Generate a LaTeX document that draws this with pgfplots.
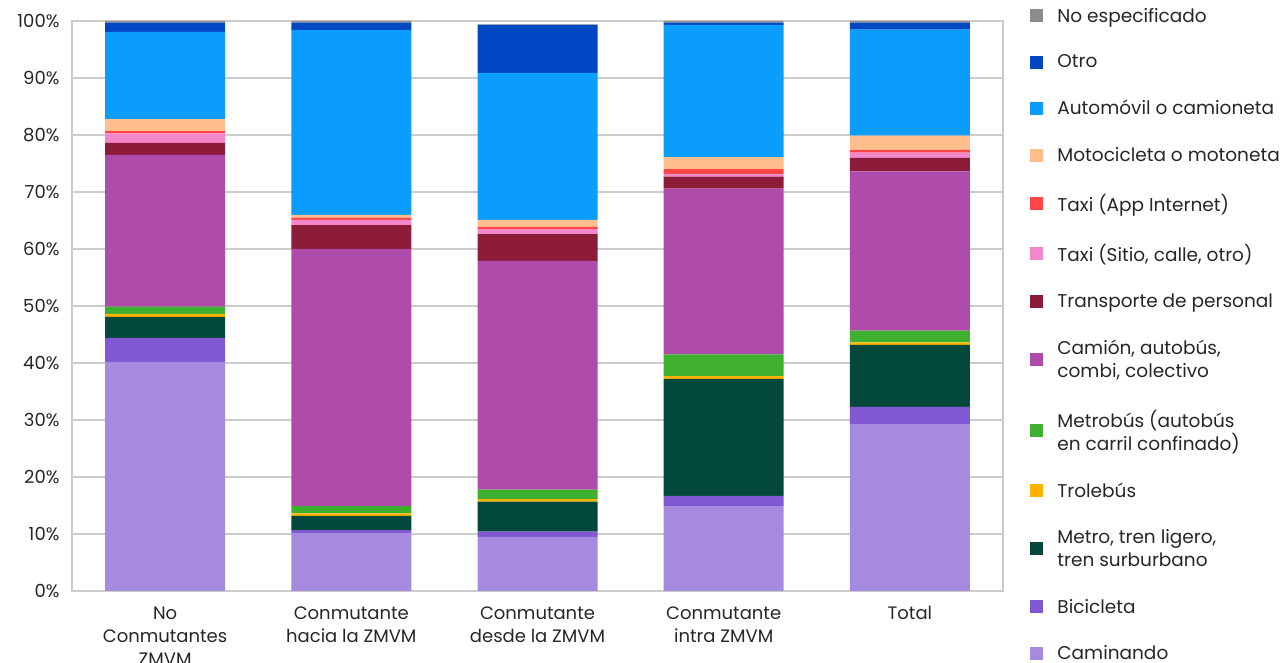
\documentclass[border=0pt]{standalone}
\usepackage{pgfplots}
\pgfplotsset{compat=1.18}
\usepackage{pgfplotstable}
\usepackage{fontspec}
\setmainfont{Poppins}
\definecolor{cCam}{HTML}{A58AE0}
\definecolor{cBic}{HTML}{8158D3}
\definecolor{cMet}{HTML}{03493B}
\definecolor{cTro}{HTML}{FFB300}
\definecolor{cMtb}{HTML}{3EAF2E}
\definecolor{cCami}{HTML}{AF4BAB}
\definecolor{cTP}{HTML}{8C1C3A}
\definecolor{cTsit}{HTML}{F287CC}
\definecolor{cTapp}{HTML}{FF4545}
\definecolor{cMoto}{HTML}{FFBE8C}
\definecolor{cAuto}{HTML}{0A9DFC}
\definecolor{cOtro}{HTML}{0047C4}
\definecolor{cNE}{HTML}{8C8C8C}
\definecolor{txt}{HTML}{262626}
\pgfplotstableread{
x cam bic met tro mtb cami tp tsit tapp moto auto otro ne
0 40.2 4.2 3.7 0.5 1.3 26.6 2.1 1.7 0.4 2.1 15.3 1.6 0.3
1 10.2 0.5 2.5 0.4 1.3 45.1 4.2 0.9 0.4 0.5 32.4 1.3 0.3
2 9.5 0.9 5.3 0.4 1.7 40.1 4.7 0.9 0.4 1.2 25.8 8.4 0.1
3 14.9 1.8 20.5 0.5 3.8 29.1 2.1 0.5 0.8 2.1 23.2 0.4 0.3
4 29.3 3.0 10.9 0.4 2.1 27.9 2.4 0.9 0.5 2.5 18.6 1.2 0.3
}\datatable
\begin{document}
\begin{tikzpicture}
\begin{axis}[
  at={(72pt,72pt)}, anchor=south west,
  scale only axis, width=931pt, height=570pt,
  ybar stacked, bar width=120pt,
  xmin=-0.5, xmax=4.5, ymin=0, ymax=100,
  xtick=data,
  xticklabels={{No\\Conmutantes\\ZMVM},{Conmutante\\hacia la ZMVM},{Conmutante\\desde la ZMVM},{Conmutante\\intra ZMVM},{Total}},
  xticklabel style={align=center, anchor=north, yshift=-12pt},
  ytick={0,10,...,100},
  yticklabel={\pgfmathprintnumber{\tick}\%},
  yticklabel style={xshift=-9pt},
  major tick length=0pt,
  ymajorgrids, grid style={draw=black!20, line width=1.2pt},
  axis line style={draw=black!20, line width=1.2pt},
  tick label style={font=\fontsize{18}{23}\selectfont, text=txt},
  /pgf/number format/assume math mode=true,
  reverse legend,
  legend cell align=left,
  legend style={at={(1.026,1.03)}, anchor=north west, draw=none, fill=none,
    font=\fontsize{18.5}{23}\selectfont, text=txt,
    nodes={align=left, inner sep=2pt},
    row sep=27pt,
    /tikz/every odd column/.append style={column sep=12pt}},
  legend image code/.code={\fill[#1] (0pt,-6.5pt) rectangle (13pt,6.5pt);},
  every axis plot/.append style={draw=none},
]
\addplot[fill=cCam] table[x=x,y=cam]{\datatable};
\addlegendentry{Caminando}
\addplot[fill=cBic] table[x=x,y=bic]{\datatable};
\addlegendentry{Bicicleta}
\addplot[fill=cMet] table[x=x,y=met]{\datatable};
\addlegendentry{Metro, tren ligero,\\tren surburbano}
\addplot[fill=cTro] table[x=x,y=tro]{\datatable};
\addlegendentry{Trolebús}
\addplot[fill=cMtb] table[x=x,y=mtb]{\datatable};
\addlegendentry{Metrobús (autobús\\en carril confinado)}
\addplot[fill=cCami] table[x=x,y=cami]{\datatable};
\addlegendentry{Camión, autobús,\\combi, colectivo}
\addplot[fill=cTP] table[x=x,y=tp]{\datatable};
\addlegendentry{Transporte de personal}
\addplot[fill=cTsit] table[x=x,y=tsit]{\datatable};
\addlegendentry{Taxi (Sitio, calle, otro)}
\addplot[fill=cTapp] table[x=x,y=tapp]{\datatable};
\addlegendentry{Taxi (App Internet)}
\addplot[fill=cMoto] table[x=x,y=moto]{\datatable};
\addlegendentry{Motocicleta o motoneta}
\addplot[fill=cAuto] table[x=x,y=auto]{\datatable};
\addlegendentry{Automóvil o camioneta}
\addplot[fill=cOtro] table[x=x,y=otro]{\datatable};
\addlegendentry{Otro}
\addplot[fill=cNE] table[x=x,y=ne]{\datatable};
\addlegendentry{No especificado}
\end{axis}
\pgfresetboundingbox
\path[use as bounding box] (0pt,0pt) rectangle (1285pt,663pt);
\end{tikzpicture}
\end{document}
